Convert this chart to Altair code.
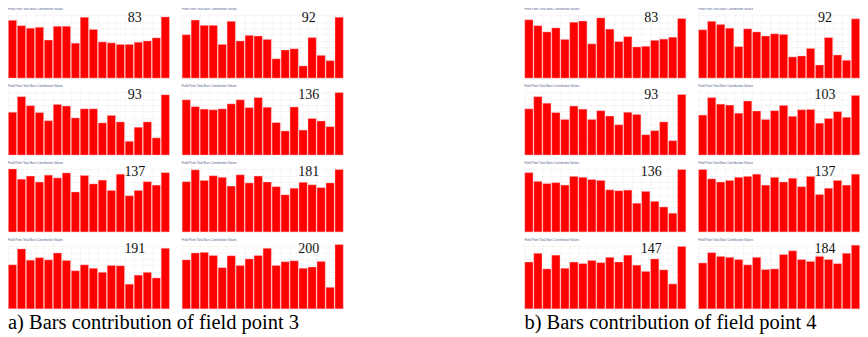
import altair as alt
import pandas as pd

bars = list(range(1, 19))

# group a) field point 3
a_labels = [83, 92, 93, 136, 137, 181, 191, 200]
a_83 = [185, 168, 160, 163, 122, 166, 166, 112, 195, 156, 116, 113, 108, 108, 115, 119, 129, 196]
a_92 = [139, 186, 169, 169, 108, 182, 119, 137, 135, 124, 62, 90, 94, 39, 130, 73, 56, 195]
a_93 = [137, 187, 158, 136, 110, 162, 157, 119, 148, 148, 103, 127, 106, 44, 89, 106, 55, 193]
a_136 = [177, 155, 147, 145, 148, 164, 177, 152, 184, 153, 104, 77, 154, 80, 117, 109, 91, 200]
a_137 = [202, 169, 179, 160, 182, 173, 189, 128, 181, 154, 166, 133, 185, 116, 133, 161, 150, 190]
a_181 = [161, 199, 165, 180, 175, 147, 183, 157, 179, 160, 145, 119, 140, 159, 151, 142, 157, 200]
a_191 = [141, 192, 156, 164, 157, 179, 155, 122, 141, 130, 117, 139, 138, 79, 108, 117, 99, 194]
a_200 = [157, 179, 181, 171, 132, 170, 139, 160, 171, 194, 139, 151, 154, 130, 134, 152, 69, 206]

# group b) field point 4
b_labels = [83, 92, 93, 103, 136, 137, 147, 184]
b_83 = [187, 168, 148, 161, 124, 179, 183, 110, 193, 157, 117, 133, 100, 102, 121, 125, 131, 191]
b_92 = [155, 182, 172, 160, 101, 158, 148, 135, 142, 140, 68, 71, 95, 42, 130, 74, 57, 190]
b_93 = [148, 187, 166, 136, 114, 157, 147, 114, 142, 125, 97, 137, 130, 65, 78, 106, 46, 194]
b_103 = [128, 184, 163, 160, 134, 173, 141, 114, 142, 159, 124, 145, 146, 102, 117, 139, 121, 191]
b_136 = [190, 162, 155, 158, 150, 178, 175, 168, 165, 135, 132, 134, 92, 130, 98, 80, 60, 200]
b_137 = [200, 170, 160, 165, 175, 178, 185, 150, 175, 160, 172, 145, 178, 120, 140, 165, 150, 185]
b_147 = [150, 178, 128, 172, 130, 150, 145, 155, 148, 165, 150, 172, 140, 120, 160, 125, 80, 200]
b_184 = [147, 180, 168, 165, 158, 141, 165, 126, 128, 174, 186, 158, 152, 168, 158, 145, 178, 204]

a_series = [a_83, a_92, a_93, a_136, a_137, a_181, a_191, a_200]
b_series = [b_83, b_92, b_93, b_103, b_136, b_137, b_147, b_184]

panel_title = "Field Point Total Bars Contribution Values"
captions = ["a) Bars contribution of field point 3", "b) Bars contribution of field point 4"]

W, H = 162, 65


def panel(values, label):
    df = pd.DataFrame({"bar": bars, "value": values})
    bar = alt.Chart(df).mark_bar(color="#ff0000", stroke="#ffd0d0", strokeWidth=0.4).encode(
        x=alt.X("bar:O", title=None,
                scale=alt.Scale(paddingInner=0.08, paddingOuter=0.04),
                axis=alt.Axis(labels=False, ticks=False, domain=False, grid=True,
                              gridColor="#ececec", gridWidth=0.5, bandPosition=0)),
        y=alt.Y("value:Q", title=None,
                scale=alt.Scale(domain=[0, 208], nice=False),
                axis=alt.Axis(labels=False, ticks=False, domain=False, grid=True,
                              gridColor="#ececec", gridWidth=0.5, tickCount=10)),
    )
    txt = alt.Chart(pd.DataFrame({"label": [str(label)]})).mark_text(
        font="Liberation Serif", fontSize=14, align="center", baseline="alphabetic", color="#111111"
    ).encode(x=alt.value(127), y=alt.value(9), text="label:N")
    return alt.layer(bar, txt).properties(
        width=W, height=H,
        title=alt.Title(panel_title, fontSize=3, anchor="start", color="#4a5a8a",
                        offset=0, fontWeight="normal", font="Liberation Sans"),
    )


def group(series, labels, caption):
    ps = [panel(s, l) for s, l in zip(series, labels)]
    rows = [alt.hconcat(ps[i], ps[i + 1], spacing=12) for i in (0, 2, 4, 6)]
    return alt.vconcat(*rows, spacing=6).properties(
        title=alt.Title(caption, orient="bottom", anchor="start", fontSize=20.5,
                        font="Liberation Serif", fontWeight="normal", color="#000000", offset=4)
    )


chart = alt.hconcat(
    group(a_series, a_labels, captions[0]),
    group(b_series, b_labels, captions[1]),
    spacing=181,
).properties(padding=0).configure_view(strokeWidth=0)

chart.save("out.html", embed_options={"renderer": "svg", "actions": False})
